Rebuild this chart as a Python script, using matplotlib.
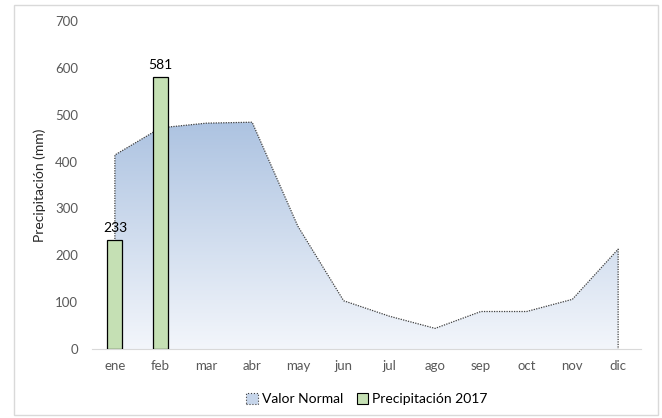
import numpy as np
import matplotlib.pyplot as plt
from matplotlib.patches import Rectangle
from matplotlib.colors import LinearSegmentedColormap

plt.rcParams['font.family'] = ['Lato', 'DejaVu Sans']

# data
meses = ["ene", "feb", "mar", "abr", "may", "jun", "jul", "ago", "sep", "oct", "nov", "dic"]
valor_normal = [414, 472, 482, 484, 262, 103, 70, 44, 80, 80, 106, 213]
precip_2017 = [233, 581]

x = np.arange(len(meses))

fig = plt.figure(figsize=(6.62, 4.18), dpi=100)
ax = fig.add_axes([92 / 662, 1 - 349 / 418, (641 - 92) / 662, (349 - 21) / 418])

# area with vertical gradient
area = ax.fill_between(x, valor_normal, 0, facecolor="none", edgecolor="none")
grad = np.linspace(0, 1, 256).reshape(-1, 1)
cmap = LinearSegmentedColormap.from_list("g", ["#f3f6fb", "#adc3e1"])
img = ax.imshow(grad, cmap=cmap, aspect="auto", origin="lower",
                extent=[0, 11, 0, max(valor_normal)], zorder=1)
img.set_clip_path(area.get_paths()[0], transform=ax.transData)
ax.plot(np.r_[x[0], x, x[-1]], np.r_[0, valor_normal, 0], color="#404040",
        linestyle=(0, (1, 1)), linewidth=0.9, zorder=2)

# bars
bars = ax.bar(x[:len(precip_2017)], precip_2017, width=0.33, color="#c5e0b4",
              edgecolor="black", linewidth=0.9, zorder=3)
for b, v in zip(bars, precip_2017):
    ax.text(b.get_x() + b.get_width() / 2, v + 12, str(v), ha="center", va="bottom",
            fontsize=10, color="black")

ax.set_xlim(-0.5, 11.5)
ax.set_ylim(0, 700)
ax.set_yticks(range(0, 701, 100))
ax.set_xticks(x)
ax.set_xticklabels(meses)
ax.tick_params(length=0, labelsize=9.5, colors="#595959", pad=8)
ax.tick_params(axis="y", pad=10)
for s in ["top", "right", "left"]:
    ax.spines[s].set_visible(False)
ax.spines["bottom"].set_color("#d9d9d9")
ax.set_ylabel("Precipitación (mm)", fontsize=10, color="#262626", va="center")
ax.yaxis.set_label_coords(40 / 662, (418 - 185) / 418, transform=fig.transFigure)

# legend
h1 = Rectangle((0, 0), 1, 1, facecolor="#c6d5ea", edgecolor="#404040", linestyle=":", linewidth=0.8)
h2 = Rectangle((0, 0), 1, 1, facecolor="#c5e0b4", edgecolor="black", linewidth=0.8)
fig.legend([h1, h2], ["Valor Normal", "Precipitación 2017"], loc="center",
           bbox_to_anchor=(367 / 662, 1 - 399 / 418), ncol=2, frameon=False,
           fontsize=10, handlelength=0.8, handleheight=0.8, handletextpad=0.3,
           columnspacing=1.0)

# outer border
fig.patches.append(Rectangle((14 / 662, 3 / 418), 644 / 662, 410 / 418, transform=fig.transFigure,
                             fill=False, edgecolor="#d9d9d9", linewidth=1))

fig.savefig("out.png", dpi=100)
